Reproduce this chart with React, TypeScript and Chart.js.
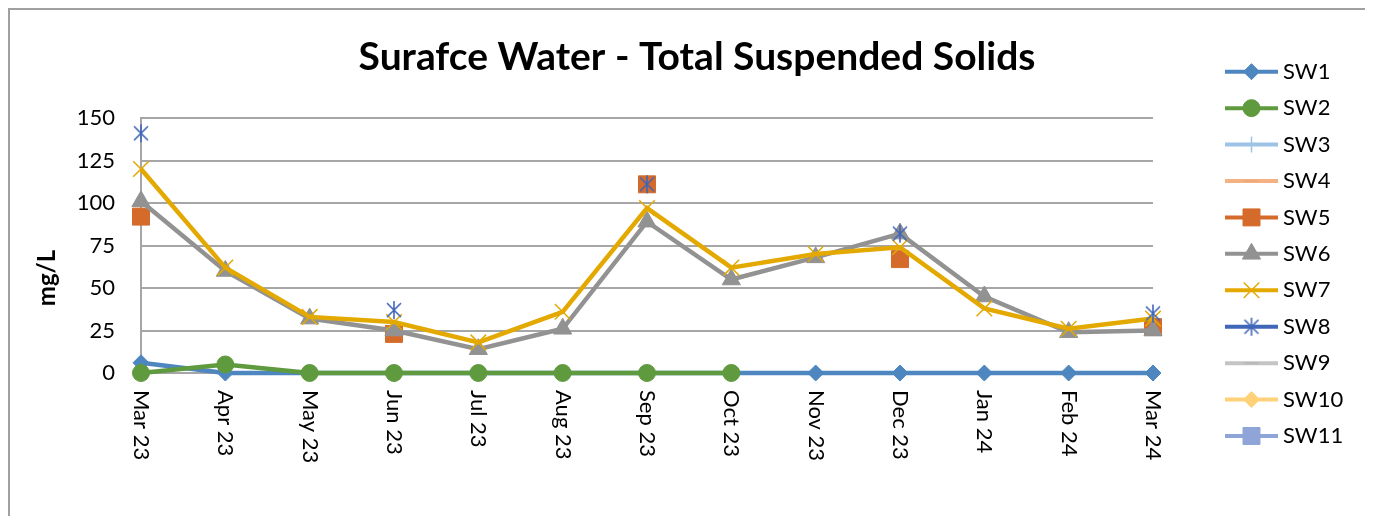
import React, { useEffect, useRef } from 'react';
import { Chart, registerables } from 'chart.js';
import { drawPoint } from 'chart.js/helpers';

Chart.register(...registerables);

const titleText = 'Surafce Water - Total Suspended Solids';
const yAxisTitle = 'mg/L';
const categories = ['Mar 23', 'Apr 23', 'May 23', 'Jun 23', 'Jul 23', 'Aug 23', 'Sep 23', 'Oct 23', 'Nov 23', 'Dec 23', 'Jan 24', 'Feb 24', 'Mar 24'];
const yTicks = [0, 25, 50, 75, 100, 125, 150];

const seriesNames = ['SW1', 'SW2', 'SW3', 'SW4', 'SW5', 'SW6', 'SW7', 'SW8', 'SW9', 'SW10', 'SW11'];
const sw1 = [6, 0, 0, 0, 0, 0, 0, 0, 0, 0, 0, 0, 0];
const sw2 = [0, 5, 0, 0, 0, 0, 0, 0, null, null, null, null, null];
const sw3 = [null, null, null, null, null, null, null, null, null, null, null, null, null];
const sw4 = [null, null, null, null, null, null, null, null, null, null, null, null, null];
const sw5 = [92, null, null, 23, null, null, 111, null, null, 67, null, null, 27];
const sw6 = [101, 60, 32, 25, 14, 26, 89, 55, 68, 82, 45, 24, 25];
const sw7 = [120, 62, 33, 30, 18, 36, 97, 62, 70, 74, 38, 26, 32];
const sw8 = [141, null, null, 37, null, null, 111, null, null, 82, null, null, 35];
const sw9 = [null, null, null, null, null, null, null, null, null, null, null, null, null];
const sw10 = [null, null, null, null, null, null, null, null, null, null, null, null, null];
const sw11 = [null, null, null, null, null, null, null, null, null, null, null, null, null];
const seriesData = [sw1, sw2, sw3, sw4, sw5, sw6, sw7, sw8, sw9, sw10, sw11];

function makeStar(color: string): HTMLCanvasElement {
  const c = document.createElement('canvas');
  c.width = 20;
  c.height = 20;
  const g = c.getContext('2d')!;
  g.strokeStyle = color;
  g.lineWidth = 1.6;
  g.beginPath();
  g.moveTo(3, 3); g.lineTo(17, 17);
  g.moveTo(17, 3); g.lineTo(3, 17);
  g.moveTo(10, 1); g.lineTo(10, 19);
  g.stroke();
  return c;
}

type Style = { color: string; markColor?: string; point: any; r: number; pw: number };

const seriesStyle: Style[] = [
  { color: '#4e86bf', point: 'rectRot', r: 8, pw: 1 },
  { color: '#5f9a3e', point: 'circle', r: 8.5, pw: 1 },
  { color: '#9dc3e6', point: 'cross', r: 8, pw: 1.5 },
  { color: '#f4b183', markColor: '#f0a878', point: 'line', r: 7, pw: 2 },
  { color: '#d56b2b', point: 'rect', r: 12, pw: 1 },
  { color: '#929292', point: 'triangle', r: 10.5, pw: 1 },
  { color: '#e4a900', point: 'crossRot', r: 11, pw: 1.5 },
  { color: '#4066b8', point: 'star', r: 9, pw: 1.5 },
  { color: '#c4c4c4', markColor: '#b8b8b8', point: 'line', r: 7, pw: 2 },
  { color: '#ffd27a', point: 'rectRot', r: 8, pw: 1 },
  { color: '#8fa5d8', point: 'rect', r: 12, pw: 1 },
];

export default function App() {
  const ref = useRef<HTMLCanvasElement | null>(null);

  useEffect(() => {
    const canvas = ref.current;
    if (!canvas) return;

    const styles = seriesStyle.map((s) => ({
      ...s,
      point: s.point === 'star' ? makeStar(s.color) : s.point,
    }));

    const datasets = seriesNames.map((name, i) => {
      const s = styles[i];
      const mc = s.markColor || s.color;
      return {
        label: name,
        data: seriesData[i],
        borderColor: s.color,
        backgroundColor: s.color,
        borderWidth: 4.5,
        pointStyle: s.point,
        pointRadius: s.r,
        pointHoverRadius: s.r,
        pointBackgroundColor: mc,
        pointBorderColor: mc,
        pointBorderWidth: s.pw,
        tension: 0,
        spanGaps: false,
        clip: false as any,
        order: 20 - i,
      };
    });

    const overlay = {
      id: 'overlay',
      afterDraw(chart: any) {
        const ctx: CanvasRenderingContext2D = chart.ctx;
        const xs = chart.scales.x;
        ctx.save();
        ctx.fillStyle = '#000';
        // title
        ctx.font = 'bold 39px Lato';
        ctx.textAlign = 'center';
        ctx.textBaseline = 'middle';
        ctx.fillText(titleText, 687, 47);
        // y title
        ctx.save();
        ctx.translate(37, 268);
        ctx.rotate(-Math.PI / 2);
        ctx.font = 'bold 24px Lato';
        ctx.fillText(yAxisTitle, 0, 0);
        ctx.restore();
        // x labels
        ctx.font = '22px Lato';
        ctx.textAlign = 'left';
        ctx.textBaseline = 'middle';
        categories.forEach((c, i) => {
          const x = xs.getPixelForValue(i);
          ctx.save();
          ctx.translate(x, 380);
          ctx.rotate(Math.PI / 2);
          ctx.fillText(c, 0, 0);
          ctx.restore();
        });
        // legend
        seriesNames.forEach((name, i) => {
          const s = styles[i];
          const y = 61.7 + 36.43 * i;
          ctx.strokeStyle = s.color;
          ctx.lineWidth = 4;
          ctx.beginPath();
          ctx.moveTo(1215, y);
          ctx.lineTo(1268, y);
          ctx.stroke();
          const mc = s.markColor || s.color;
          ctx.fillStyle = mc;
          ctx.strokeStyle = mc;
          ctx.lineWidth = s.pw;
          drawPoint(ctx, { pointStyle: s.point, radius: s.r, rotation: 0, borderWidth: s.pw } as any, 1241.5, y);
          ctx.fillStyle = '#000';
          ctx.font = '22px Lato';
          ctx.textAlign = 'left';
          ctx.textBaseline = 'middle';
          ctx.fillText(name, 1273, y);
        });
        ctx.restore();
      },
    };

    const chart = new Chart(canvas, {
      type: 'line',
      data: { labels: categories, datasets: datasets as any },
      options: {
        responsive: false,
        maintainAspectRatio: false,
        animation: false,
        events: [],
        layout: { padding: { left: 0, right: 212, top: 108, bottom: 143 } },
        plugins: {
          legend: { display: false },
          tooltip: { enabled: false },
          title: { display: false },
        },
        scales: {
          x: {
            type: 'category',
            offset: false,
            grid: { display: false },
            border: { display: false },
            ticks: { display: false },
            afterFit: (s: any) => { s.height = 0; },
          },
          y: {
            min: 0,
            max: 150,
            afterBuildTicks: (s: any) => { s.ticks = yTicks.map((v) => ({ value: v })); },
            grid: { color: '#a6a6a6', lineWidth: 2, drawTicks: false },
            border: { display: true, color: '#a6a6a6', width: 2 },
            ticks: { color: '#000', font: { family: 'Lato', size: 22 }, padding: 26 },
            afterFit: (s: any) => { s.width = 131; },
          },
        },
      },
      plugins: [overlay],
    });

    return () => chart.destroy();
  }, []);

  return (
    <div style={{ width: 1357, height: 508, overflow: 'hidden', position: 'relative' }}>
      <div
        style={{
          position: 'absolute',
          left: 0,
          top: 0,
          width: 1400,
          height: 560,
          borderTop: '2px solid #a0a0a0',
          borderLeft: '2px solid #a0a0a0',
        }}
      >
        <canvas ref={ref} width={1355} height={506} style={{ display: 'block', width: 1355, height: 506 }} />
      </div>
    </div>
  );
}
